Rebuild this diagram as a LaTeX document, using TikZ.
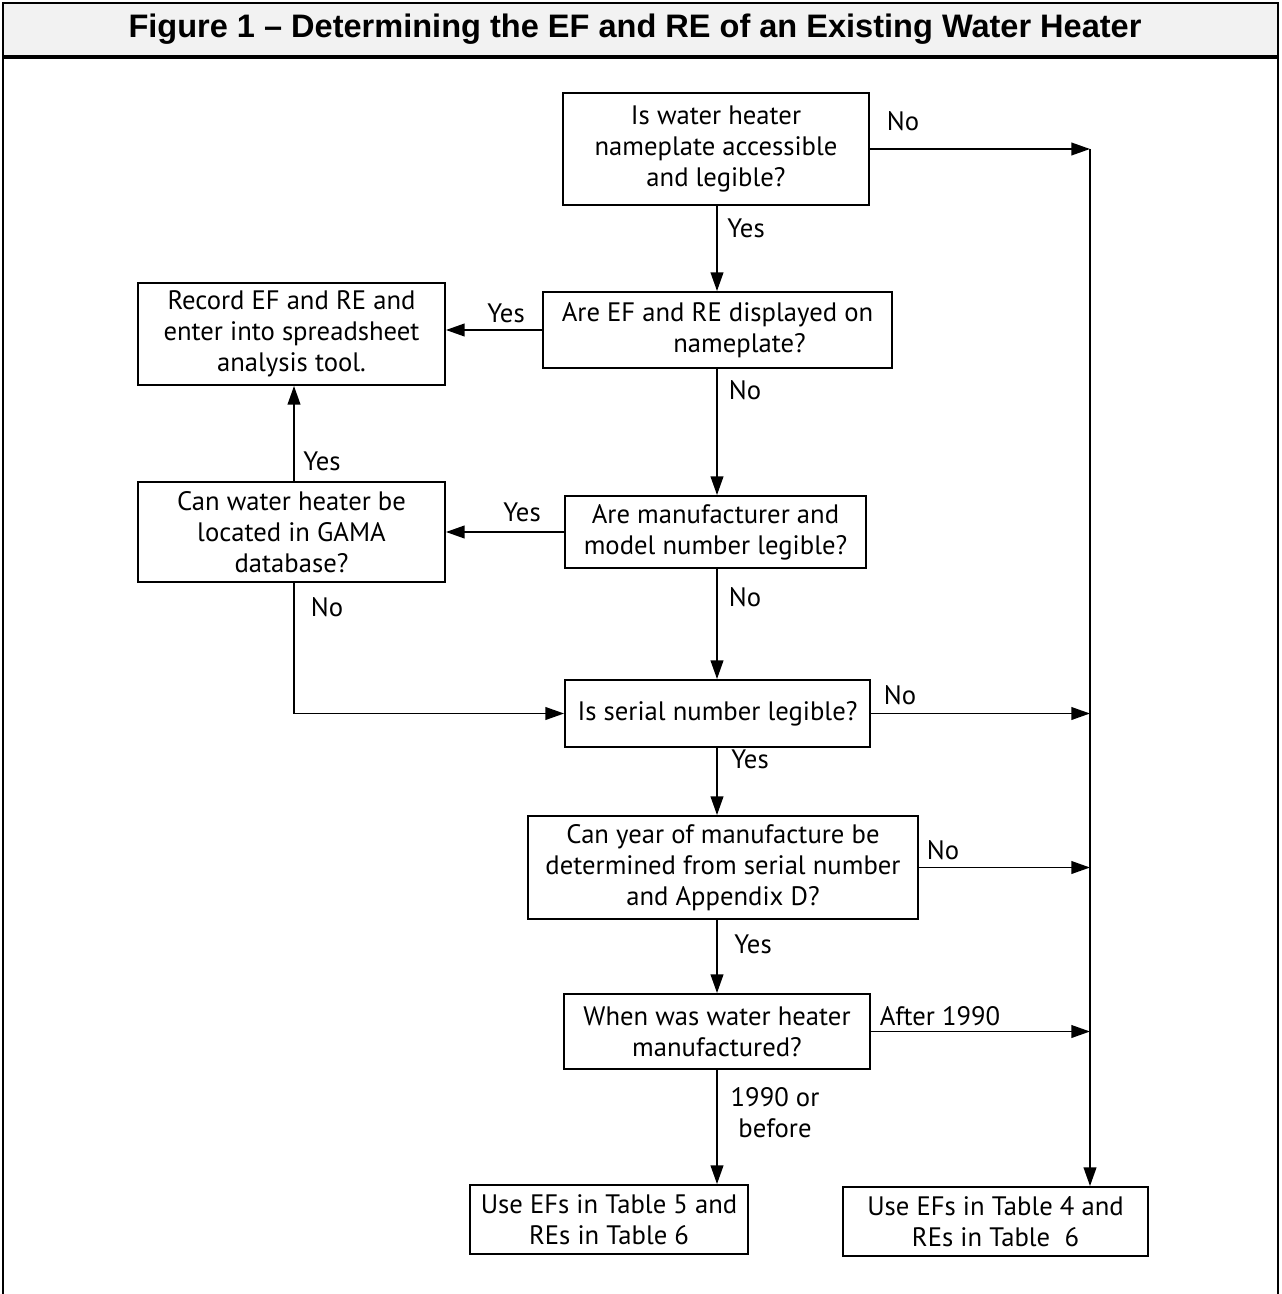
\documentclass[tikz,border=0pt]{standalone}
\usepackage{fontspec}
\setmainfont{PT Sans}
\newfontfamily\titlefont{Liberation Sans}
\usetikzlibrary{arrows.meta}
\definecolor{titlegray}{HTML}{F2F2F2}
\begin{document}
\begin{tikzpicture}[x=0.75pt,y=-0.75pt,
 txt/.style={font=\fontsize{20}{23.25}\selectfont},
 box/.style={draw, line width=1.4pt, align=center, inner sep=0pt, txt},
 sz/.style 2 args={minimum width=#1*0.75pt, minimum height=#2*0.75pt},
 lbl/.style={txt, inner sep=0pt, align=center},
 arr/.style={line width=1.4pt, -{Triangle[length=14pt,width=9.5pt]}},
 ln/.style={line width=1.4pt}]
\useasboundingbox (0,0) rectangle (1281,1294);
% frame and title bar
\draw[line width=1.5pt, fill=titlegray] (3,3) rectangle (1278,57);
\draw[line width=2.5pt] (3,57) -- (1278,57);
\draw[line width=1.5pt] (3,3) -- (3,1294);
\draw[line width=1.5pt] (1278,3) -- (1278,1294);
\node[font=\titlefont\bfseries\fontsize{24.4}{28}\selectfont] (title) at (635,29) {Figure 1 – Determining the EF and RE of an Existing Water Heater};

% routing coordinates
\coordinate (main) at (717,0);
\coordinate (lx) at (294,0);
\coordinate (R) at (1090,0);

% boxes
\node[box, sz={306}{112}] (b1) at (716,149) {Is water heater\\nameplate accessible\\and legible?};
\node[box, sz={349}{76}] (b2) at (717.5,330) {Are EF and RE displayed on\\\hspace*{33pt}nameplate?};
\node[box, sz={307}{102}] (b3) at (291.5,334) {Record EF and RE and\\enter into spreadsheet\\analysis tool.};
\node[box, sz={307}{100}] (b4) at (291.5,532) {Can water heater be\\located in GAMA\\database?};
\node[box, sz={301}{72}] (b5) at (715.5,532) {Are manufacturer and\\model number legible?};
\node[box, sz={305}{67}] (b6) at (717.5,713.5) {Is serial number legible?};
\node[box, sz={390}{103}] (b7) at (723,867.5) {Can year of manufacture be\\determined from serial number\\and Appendix D?};
\node[box, sz={306}{75}] (b9) at (717,1031.5) {When was water heater\\manufactured?};
\node[box, sz={278}{69}] (b10) at (609,1219.5) {Use EFs in Table 5 and\\REs in Table 6};
\node[box, sz={305}{69}] (b8) at (995.5,1221.5) {Use EFs in Table 4 and\\REs in Table\ \ 6};

% connectors
\draw[arr] (b1.south -| main) -- (b2.north -| main);
\draw[arr] (b2.west) -- (b2.west -| b3.east);
\draw[arr] (b2.south -| main) -- (b5.north -| main);
\draw[arr] (b4.north -| lx) -- (b3.south -| lx);
\draw[arr] (b5.west) -- (b5.west -| b4.east);
\draw[arr] (b5.south -| main) -- (b6.north -| main);
\draw[arr] (b4.south -| lx) -- (lx |- b6.west) -- (b6.west);
\draw[arr] (b6.south -| main) -- (b7.north -| main);
\draw[arr] (b7.south -| main) -- (b9.north -| main);
\draw[arr] (b9.south -| main) -- (b10.north -| main);
\draw[arr] (b1.east) -- (b1.east -| R);
\draw[arr] (b1.east -| R) -- (b8.north -| R);
\draw[arr] (b6.east) -- (b6.east -| R);
\draw[arr] (b7.east) -- (b7.east -| R);
\draw[arr] (b9.east) -- (b9.east -| R);

% labels
\node[lbl] (l1) at (903,121) {No};
\node[lbl] (l2) at (746,228) {Yes};
\node[lbl] (l3) at (506,313) {Yes};
\node[lbl] (l4) at (745,390) {No};
\node[lbl] (l5) at (322,461) {Yes};
\node[lbl] (l6) at (522,512) {Yes};
\node[lbl] (l7) at (745,597) {No};
\node[lbl] (l8) at (327,607) {No};
\node[lbl] (l9) at (900,695) {No};
\node[lbl] (l10) at (750,759) {Yes};
\node[lbl] (l11) at (943,850) {No};
\node[lbl] (l12) at (753,944) {Yes};
\node[lbl] (l13) at (940,1016) {After 1990};
\node[lbl] (l14) at (775,1113) {1990 or\\before};
\end{tikzpicture}
\end{document}
